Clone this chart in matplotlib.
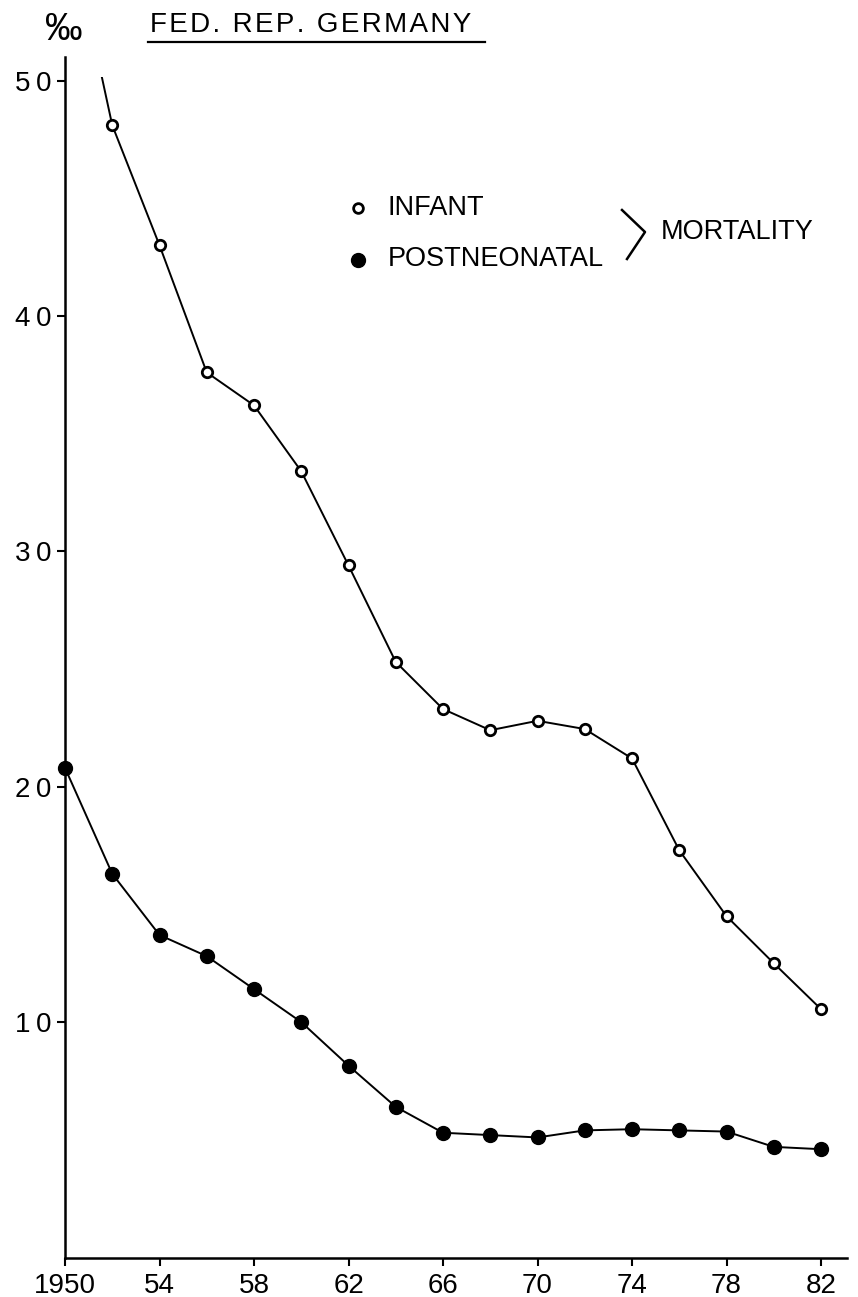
import matplotlib
matplotlib.use("Agg")
import matplotlib.pyplot as plt
from matplotlib.patches import Rectangle
from matplotlib.lines import Line2D

plt.rcParams['font.family'] = ['Liberation Sans', 'DejaVu Sans']

# ---- data ----
years = [1950, 1952, 1954, 1956, 1958, 1960, 1962, 1964, 1966,
         1968, 1970, 1972, 1974, 1976, 1978, 1980, 1982]
infant = [57.4, 48.1, 43.0, 37.6, 36.2, 33.4, 29.4, 25.3, 23.3,
          22.4, 22.8, 22.45, 21.2, 17.3, 14.5, 12.5, 10.55]
postneonatal = [20.8, 16.3, 13.7, 12.8, 11.4, 10.0, 8.15, 6.4, 5.3,
                5.2, 5.1, 5.4, 5.45, 5.4, 5.35, 4.7, 4.6]
infant_clip_top = 50.15   # infant curve leaves the drawn area here

xticks = [1950, 1954, 1958, 1962, 1966, 1970, 1974, 1978, 1982]
xticklabels = ['1950', '54', '58', '62', '66', '70', '74', '78', '82']
yticks = [10, 20, 30, 40, 50]
yticklabels = ['10', '20', '30', '40', '50']
title = 'FED. REP. GERMANY'


def spaced(s, sep='\u2009'):
    return sep.join(s)


W, H = 858, 1297
fig = plt.figure(figsize=(W / 100, H / 100), dpi=100)
ax = fig.add_axes([65 / W, 1 - 1257.5 / H, (847 - 65) / W, (1257.5 - 57) / H])

ax.set_xlim(1950, 1983.1)
ax.set_ylim(0, 51)

# infant line (clipped at top) + open markers
ln, = ax.plot(years, infant, color='black', lw=1.4, zorder=2)
clip = Rectangle((1940, -10), 60, infant_clip_top + 10, transform=ax.transData)
ln.set_clip_path(clip)
ax.plot(years[1:], infant[1:], linestyle='none', marker='o', ms=7.5,
        mfc='white', mec='black', mew=2.0, zorder=3)

# postneonatal
ax.plot(years, postneonatal, color='black', lw=1.4, marker='o', ms=10,
        mfc='black', mec='black', zorder=3, clip_on=False)

for s in ['top', 'right']:
    ax.spines[s].set_visible(False)
for s in ['left', 'bottom']:
    ax.spines[s].set_linewidth(1.8)

ax.set_xticks(xticks)
ax.set_xticklabels(xticklabels)
ax.set_yticks(yticks)
ax.set_yticklabels([spaced(t) for t in yticklabels])
ax.tick_params(axis='both', direction='out', length=6, width=1.5,
               labelsize=20, colors='black', pad=4)
ax.tick_params(axis='x', pad=5)

# per-mille unit label
fig.text(64 / W, 1 - 30 / H, '‰', fontsize=27, ha='center', va='center')

# title with underline
fig.text(150 / W, 1 - 25 / H, spaced(title, '\u200a'), fontsize=20, ha='left', va='center')
fig.add_artist(Line2D([148 / W, 485 / W], [1 - 42 / H, 1 - 42 / H],
                      color='black', lw=1.6, transform=fig.transFigure))

# legend (manual)
fig.add_artist(Line2D([358 / W], [1 - 208 / H], marker='o', ms=7, mfc='white',
                      mec='black', mew=2.0, linestyle='none', transform=fig.transFigure))
fig.add_artist(Line2D([358 / W], [1 - 260 / H], marker='o', ms=10, mfc='black',
                      mec='black', linestyle='none', transform=fig.transFigure))
fig.text(388 / W, 1 - 208 / H, 'INFANT', fontsize=19.5, ha='left', va='center')
fig.text(388 / W, 1 - 259 / H, 'POSTNEONATAL', fontsize=19.5, ha='left', va='center')
fig.add_artist(Line2D([622 / W, 645 / W, 627 / W],
                      [1 - 210 / H, 1 - 232 / H, 1 - 259 / H],
                      color='black', lw=1.8, transform=fig.transFigure))
fig.text(661 / W, 1 - 232 / H, 'MORTALITY', fontsize=19.5, ha='left', va='center')

fig.savefig('out.png', dpi=100)
